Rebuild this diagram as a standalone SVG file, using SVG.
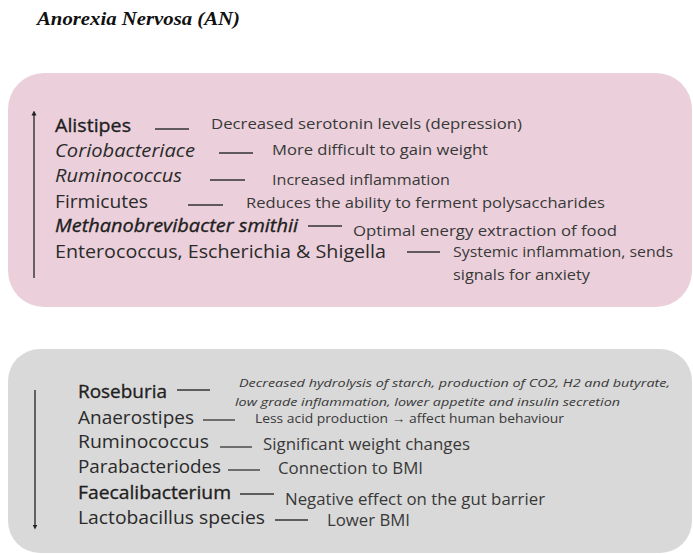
<svg xmlns="http://www.w3.org/2000/svg" width="693" height="554" viewBox="0 0 693 554">
<defs>
<style>
.t{font-family:"Liberation Serif","Times New Roman",serif;font-weight:bold;font-style:italic;font-size:19px;fill:#111}
.n{font-family:"Open Sans","Noto Sans","Liberation Sans",sans-serif;font-size:19px;fill:#2a2a2a}
.b{fill:#1e1e1e;stroke:#1e1e1e;stroke-width:0.35}
.i{font-style:italic}
.d{font-family:"Open Sans","Noto Sans","Liberation Sans",sans-serif;font-size:15px;fill:#383838}
.dash{stroke:#333;stroke-width:1.3;fill:none}
.arr{stroke:#222;stroke-width:1.3;fill:none}
</style>
<marker id="ah" viewBox="0 0 10 10" refX="5" refY="5" markerWidth="5" markerHeight="7" orient="auto-start-reverse" markerUnits="userSpaceOnUse">
<path d="M0,0 L10,5 L0,10 z" fill="#222"/>
</marker>
</defs>
<rect width="693" height="554" fill="#ffffff"/>
<g id="title">
<text class="t" x="37" y="25" textLength="203" lengthAdjust="spacingAndGlyphs">Anorexia Nervosa (AN)</text>
</g>
<g id="increased">
<rect x="8" y="73" width="684" height="234" rx="36" ry="36" fill="#ebd0db"/>
<text class="n b" x="55" y="132" textLength="76" lengthAdjust="spacingAndGlyphs">Alistipes</text>
<text class="n i" x="55" y="157" textLength="140" lengthAdjust="spacingAndGlyphs">Coriobacteriace</text>
<text class="n i" x="55" y="182" textLength="127" lengthAdjust="spacingAndGlyphs">Ruminococcus</text>
<text class="n" x="55" y="208" textLength="93" lengthAdjust="spacingAndGlyphs">Firmicutes</text>
<text class="n b i" x="55" y="232" textLength="243" lengthAdjust="spacingAndGlyphs">Methanobrevibacter smithii</text>
<text class="n" x="55" y="258" textLength="331" lengthAdjust="spacingAndGlyphs">Enterococcus, Escherichia &amp; Shigella</text>
<text class="d" x="211" y="129" textLength="311" lengthAdjust="spacingAndGlyphs">Decreased serotonin levels (depression)</text>
<text class="d" x="272" y="155" textLength="216" lengthAdjust="spacingAndGlyphs">More difficult to gain weight</text>
<text class="d" x="272" y="185" textLength="178" lengthAdjust="spacingAndGlyphs">Increased inflammation</text>
<text class="d" x="246" y="208" textLength="359" lengthAdjust="spacingAndGlyphs">Reduces the ability to ferment polysaccharides</text>
<text class="d" x="353" y="236" textLength="264" lengthAdjust="spacingAndGlyphs">Optimal energy extraction of food</text>
<text class="d" x="453" y="257" textLength="220" lengthAdjust="spacingAndGlyphs">Systemic inflammation, sends</text>
<text class="d" x="453" y="280" textLength="137" lengthAdjust="spacingAndGlyphs">signals for anxiety</text>
</g>
<g id="decreased">
<rect x="8" y="349" width="684" height="204" rx="32" ry="32" fill="#d9d9d9"/>
<text class="n b" x="78" y="398" textLength="89" lengthAdjust="spacingAndGlyphs">Roseburia</text>
<text class="n" x="78" y="424" textLength="116" lengthAdjust="spacingAndGlyphs">Anaerostipes</text>
<text class="n" x="78" y="448" textLength="131" lengthAdjust="spacingAndGlyphs">Ruminococcus</text>
<text class="n" x="78" y="473" textLength="143" lengthAdjust="spacingAndGlyphs">Parabacteriodes</text>
<text class="n b" x="78" y="499" textLength="153" lengthAdjust="spacingAndGlyphs">Faecalibacterium</text>
<text class="n" x="78" y="524" textLength="187" lengthAdjust="spacingAndGlyphs">Lactobacillus species</text>
<text class="d i" x="239" y="387" style="font-size:11.5px" textLength="431" lengthAdjust="spacingAndGlyphs">Decreased hydrolysis of starch, production of CO2, H2 and butyrate,</text>
<text class="d i" x="235" y="406" style="font-size:11.5px" textLength="385" lengthAdjust="spacingAndGlyphs">low grade inflammation, lower appetite and insulin secretion</text>
<text class="d" x="255" y="423" style="font-size:12.5px" textLength="309" lengthAdjust="spacingAndGlyphs">Less acid production → affect human behaviour</text>
<text class="d" x="263" y="450" style="font-size:15.5px" textLength="207" lengthAdjust="spacingAndGlyphs">Significant weight changes</text>
<text class="d" x="278" y="474" style="font-size:15.5px" textLength="145" lengthAdjust="spacingAndGlyphs">Connection to BMI</text>
<text class="d" x="285" y="505" style="font-size:15.5px" textLength="260" lengthAdjust="spacingAndGlyphs">Negative effect on the gut barrier</text>
<text class="d" x="327" y="526" style="font-size:15.5px" textLength="83" lengthAdjust="spacingAndGlyphs">Lower BMI</text>
</g>
<g id="connectors">
<line class="arr" x1="34" y1="278" x2="34" y2="113" marker-end="url(#ah)"/>
<line class="arr" x1="35" y1="390" x2="35" y2="527" marker-end="url(#ah)"/>
<line class="dash" x1="155" y1="129" x2="189" y2="129"/>
<line class="dash" x1="219" y1="153" x2="253" y2="153"/>
<line class="dash" x1="210" y1="180" x2="245" y2="180"/>
<line class="dash" x1="188" y1="205" x2="223" y2="205"/>
<line class="dash" x1="308" y1="226" x2="342" y2="226"/>
<line class="dash" x1="407" y1="252" x2="440" y2="252"/>
<line class="dash" x1="177" y1="390" x2="210" y2="390"/>
<line class="dash" x1="203" y1="420" x2="235" y2="420"/>
<line class="dash" x1="220" y1="447" x2="252" y2="447"/>
<line class="dash" x1="228" y1="470" x2="260" y2="470"/>
<line class="dash" x1="240" y1="494" x2="274" y2="494"/>
<line class="dash" x1="275" y1="520" x2="308" y2="520"/>
</g>
</svg>
